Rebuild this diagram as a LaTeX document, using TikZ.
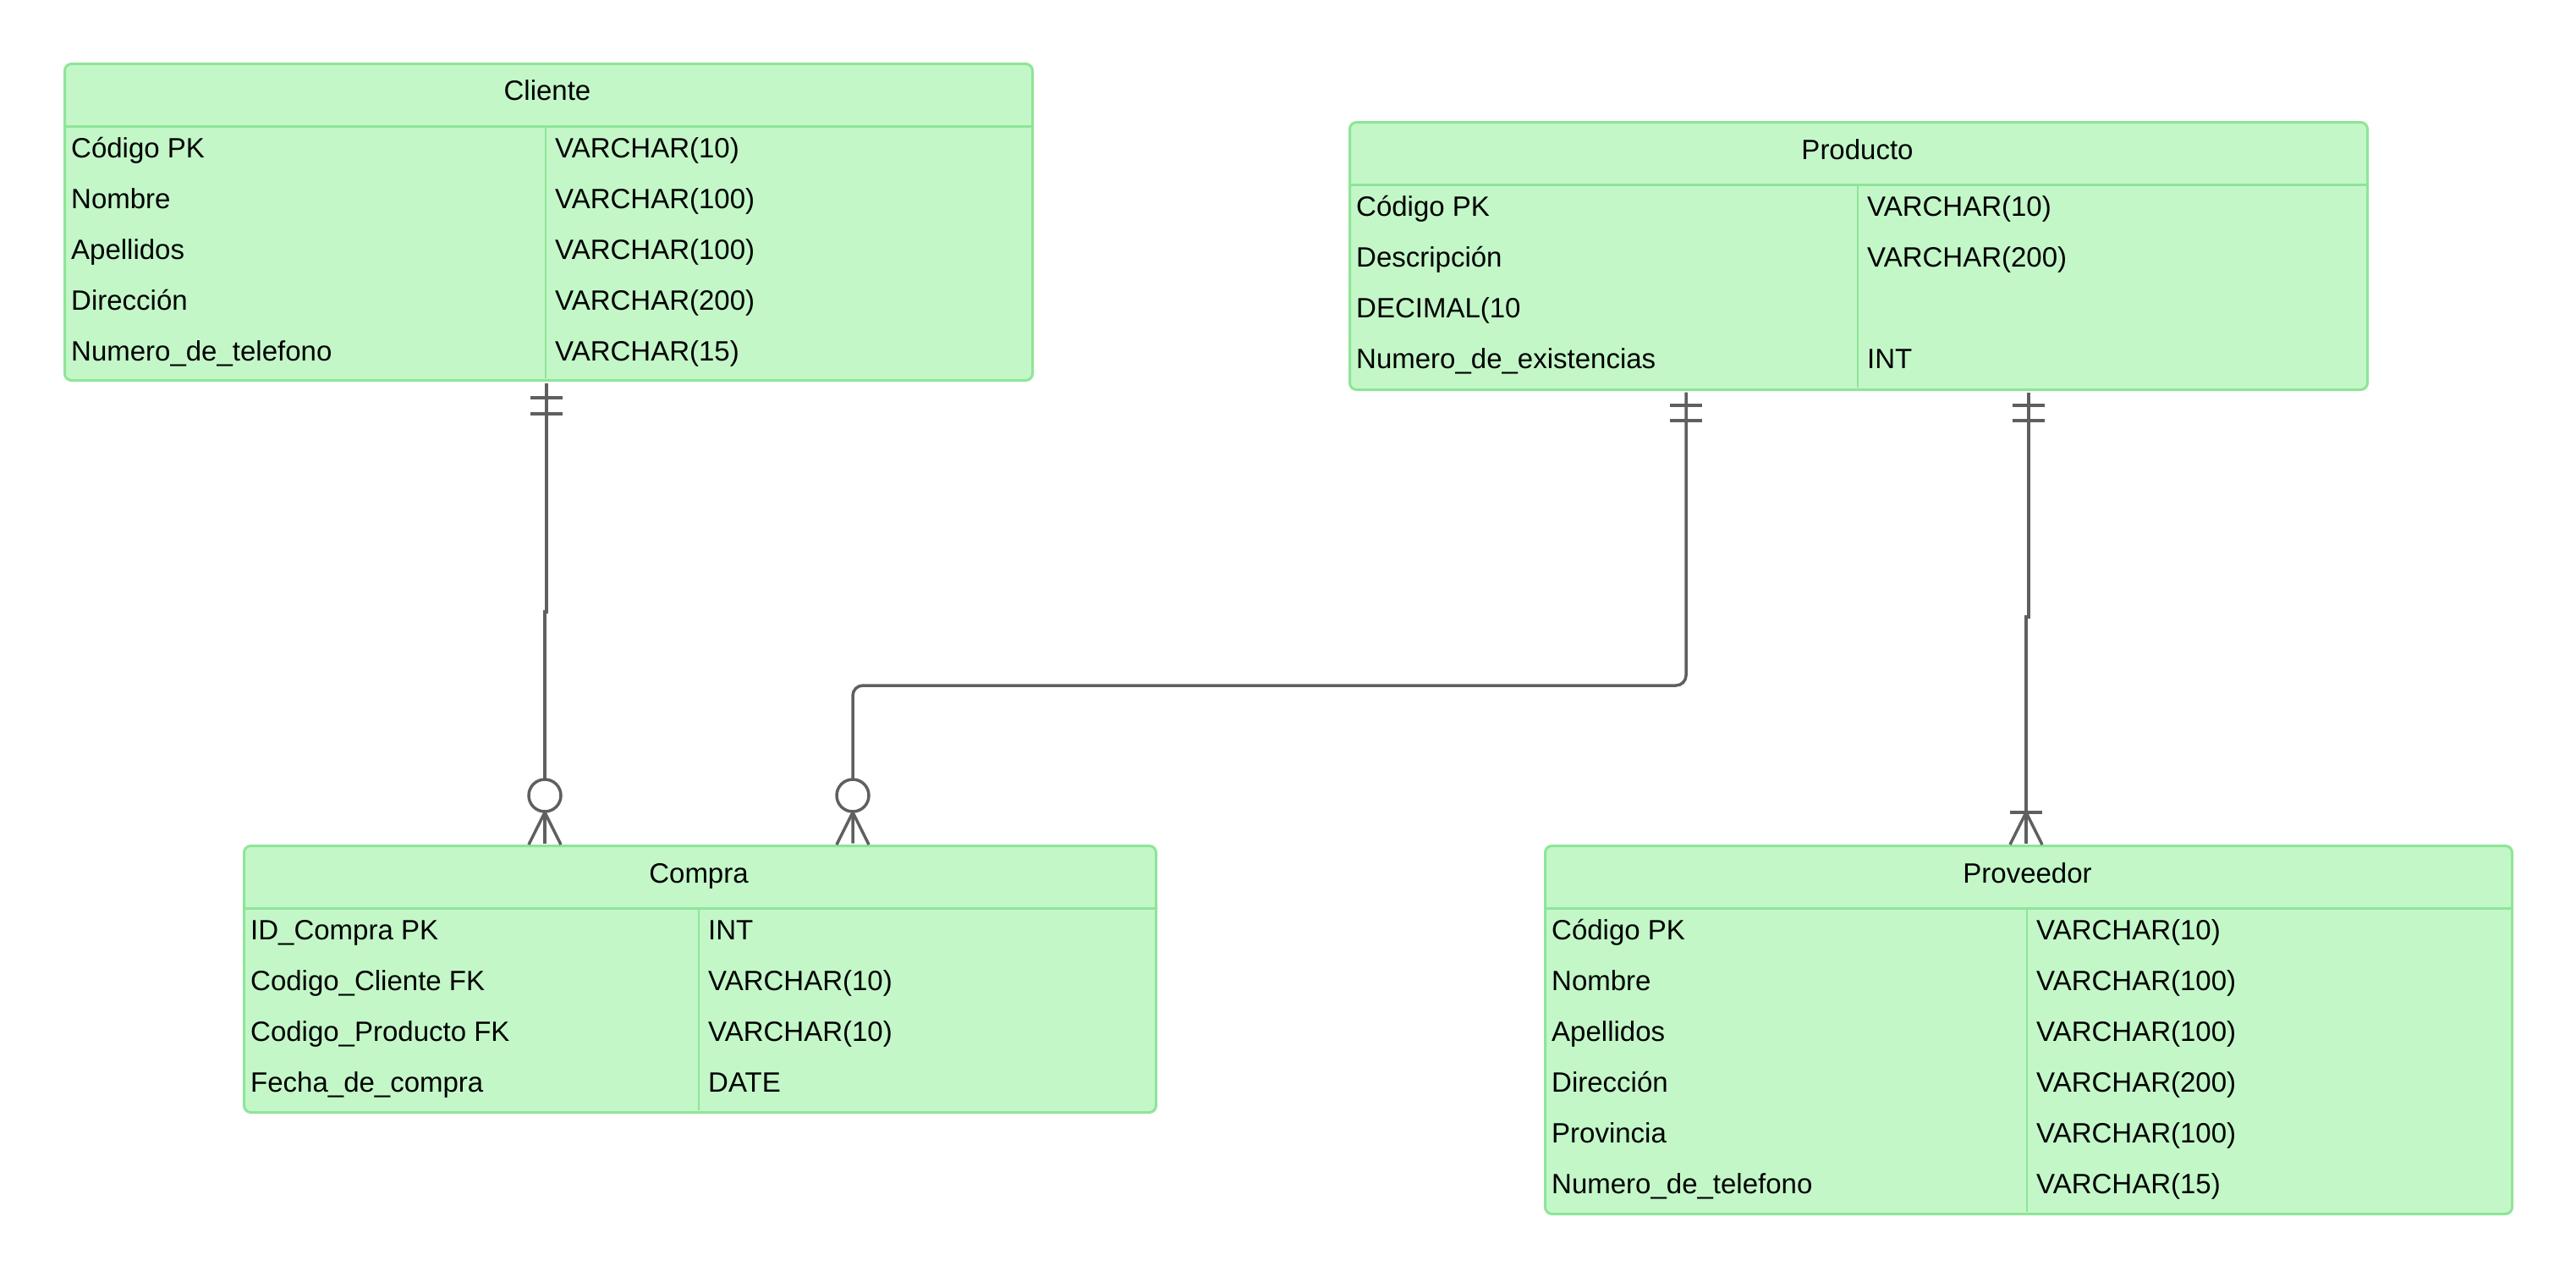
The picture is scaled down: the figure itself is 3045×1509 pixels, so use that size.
\documentclass[tikz,border=0pt]{standalone}
\usepackage{fontspec}
\setmainfont{Liberation Sans}
\definecolor{tfill}{HTML}{C3F7C8}
\definecolor{tline}{HTML}{8EE598}
\definecolor{conncol}{HTML}{5F5F5F}
\newcommand\ertable[8]{%
  \node[tbl, minimum width={(#4-#2)*1pt}, minimum height={(#5-#3)*1pt}] (#1) at (#2,#3) {};
  \draw[sepline] (#2,{#3+75}) -- (#4,{#3+75});
  \draw[sepline, line width=2.5pt] (#6,{#3+76}) -- (#6,{#5-1});
  \node[ttl] (#1-title) at ({(#2+#4)/2},{#3+45}) {#7};
  \foreach \lt/\rt [count=\i] in {#8} {
    \node[cell] (#1-k\i) at ({#2+9},{#3+75+(\i-1)*60+37}) {\lt};
    \node[cell] (#1-v\i) at ({#6+11},{#3+75+(\i-1)*60+37}) {\rt};
  }
}
\begin{document}
\begin{tikzpicture}[x=1pt,y=-1pt,
  tbl/.style={draw=tline, fill=tfill, line width=3pt, rounded corners=8pt, anchor=north west, inner sep=0pt},
  sepline/.style={draw=tline, line width=3pt},
  ttl/.style={font=\fontsize{33}{39}\selectfont, anchor=base, inner sep=0pt},
  cell/.style={font=\fontsize{33}{39}\selectfont, anchor=base west, inner sep=0pt},
  conn/.style={draw=conncol, line width=3.5pt},
  tip/.style={draw=conncol, line width=3.5pt},
  ring/.style={draw=conncol, line width=3.5pt, fill=white}]
\useasboundingbox (0,0) rectangle (3045,1509);

\ertable{cliente}{75}{74}{1219}{448}{645}{Cliente}{Código PK/VARCHAR(10), Nombre/VARCHAR(100), Apellidos/VARCHAR(100), Dirección/VARCHAR(200), Numero\_de\_telefono/VARCHAR(15)}
\ertable{producto}{1594}{143}{2797}{459}{2196}{Producto}{Código PK/VARCHAR(10), Descripción/VARCHAR(200), {DECIMAL(10}/{}, Numero\_de\_existencias/INT}
\ertable{compra}{287}{998}{1365}{1313}{826}{Compra}{ID\_Compra PK/INT, Codigo\_Cliente FK/VARCHAR(10), Codigo\_Producto FK/VARCHAR(10), Fecha\_de\_compra/DATE}
\ertable{proveedor}{1825}{998}{2968}{1433}{2396}{Proveedor}{Código PK/VARCHAR(10), Nombre/VARCHAR(100), Apellidos/VARCHAR(100), Dirección/VARCHAR(200), Provincia/VARCHAR(100), Numero\_de\_telefono/VARCHAR(15)}

\coordinate (k1) at (646,0);
\coordinate (k1b) at (644,0);
\coordinate (k2) at (1993,0);
\coordinate (k3) at (1008,0);
\coordinate (k4) at (2398,0);
\coordinate (k5) at (2395,0);

% Cliente -- Compra
\draw[conn] ([yshift=-1.5pt]cliente.south -| k1) -- (646,723) -- (644,723) -- ([yshift=1.5pt]compra.north -| k1b);
\draw[tip] (627,470) -- (665,470) (627,489) -- (665,489);
\draw[tip] (644,960) -- (625,998) (644,960) -- (663,998);
\draw[ring] (644,940) circle (19);

% Producto -- Compra
\draw[conn, rounded corners=12pt] ([yshift=-1.5pt]producto.south -| k2) -- (1993,810) -- (1008,810) -- ([yshift=1.5pt]compra.north -| k3);
\draw[tip] (1974,479) -- (2012,479) (1974,497) -- (2012,497);
\draw[tip] (1008,960) -- (989,998) (1008,960) -- (1027,998);
\draw[ring] (1008,940) circle (19);

% Producto -- Proveedor
\draw[conn] ([yshift=-1.5pt]producto.south -| k4) -- (2398,729) -- (2395,729) -- ([yshift=1.5pt]proveedor.north -| k5);
\draw[tip] (2379,479) -- (2417,479) (2379,497) -- (2417,497);
\draw[tip] (2376,960) -- (2414,960);
\draw[tip] (2395,960) -- (2376,998) (2395,960) -- (2414,998);
\end{tikzpicture}
\end{document}
